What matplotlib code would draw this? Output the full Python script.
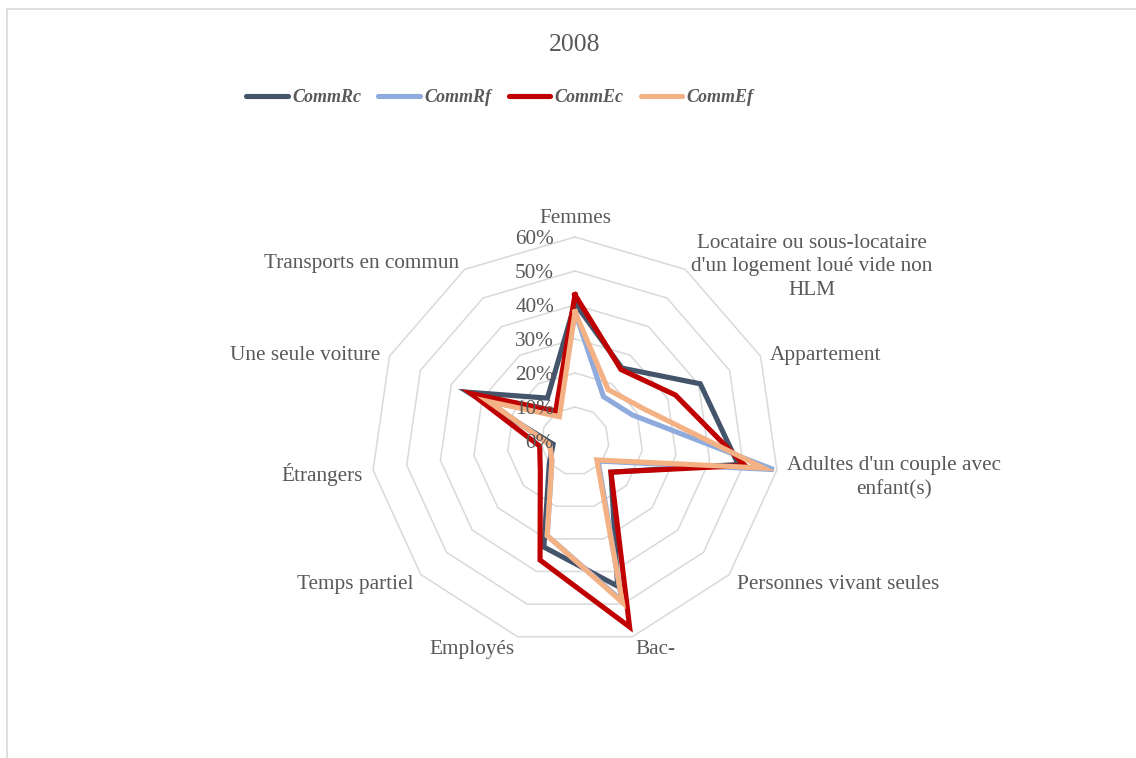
import numpy as np
import matplotlib
matplotlib.use("Agg")
import matplotlib.pyplot as plt
from matplotlib.lines import Line2D
from matplotlib.transforms import ScaledTranslation

categories = ["Femmes",
              "Locataire ou sous-locataire\nd'un logement loué vide non\nHLM",
              "Appartement",
              "Adultes d'un couple avec\nenfant(s)",
              "Personnes vivant seules",
              "Bac-",
              "Employés",
              "Temps partiel",
              "Étrangers",
              "Une seule voiture",
              "Transports en commun"]

series_names = ["CommRc", "CommRf", "CommEc", "CommEf"]
comm_rc = [40.5, 25.5, 40.5, 48.5, 14.0, 44.5, 32.5, 10.0, 6.5, 34.5, 15.0]
comm_rf = [38.0, 15.5, 18.5, 59.0, 9.0, 49.0, 29.0, 9.0, 7.5, 28.0, 9.0]
comm_ec = [43.0, 25.0, 32.5, 50.5, 14.0, 57.0, 36.5, 13.5, 10.5, 33.5, 10.5]
comm_ef = [38.0, 18.0, 22.5, 56.0, 8.5, 49.5, 29.0, 9.0, 7.5, 28.0, 8.5]
tick_values = [0, 10, 20, 30, 40, 50, 60]
tick_labels = ["0%", "10%", "20%", "30%", "40%", "50%", "60%"]
title = "2008"

colors = ["#44546A", "#8FAADC", "#C00000", "#F4B183"]
text_color = "#595959"
grid_color = "#D9D9D9"

plt.rcParams['font.family'] = ['Liberation Serif', 'DejaVu Serif']

W, H = 1136, 758
fig = plt.figure(figsize=(W / 100, H / 100), dpi=100)

cx, cy, R = 575, 441, 204
ax = fig.add_axes([(cx - R) / W, (H - cy - R) / H, 2 * R / W, 2 * R / H],
                  projection='polar')
ax.set_theta_zero_location('N')
ax.set_theta_direction(-1)
ax.set_ylim(0, 60)
ax.grid(False)
ax.set_xticks([])
ax.set_yticks([])
ax.spines['polar'].set_visible(False)
ax.patch.set_alpha(0)

n = len(categories)
angles = np.arange(n) * 2 * np.pi / n
closed = np.append(angles, angles[0])

for r in tick_values[1:]:
    ax.plot(closed, [r] * (n + 1), color=grid_color, lw=1.1, zorder=1,
            clip_on=False)

handles = []
for vals, col, name in zip([comm_rc, comm_rf, comm_ec, comm_ef], colors, series_names):
    v = list(vals) + [vals[0]]
    ln, = ax.plot(closed, v, color=col, lw=3.7, zorder=3, clip_on=False,
                  solid_joinstyle='miter', label=name)
    handles.append(ln)


def shifted(dx_px, dy_px):
    return ax.transData + ScaledTranslation(dx_px / 100, dy_px / 100, fig.dpi_scale_trans)


# tick labels
for tv, tl in zip(tick_values, tick_labels):
    ax.text(0, tv, tl, transform=shifted(-21, -2), ha='right', va='center',
            fontsize=15.3, color=text_color, zorder=5)

# category labels
for a, lab in zip(angles, categories):
    deg = np.degrees(a)
    if deg < 1:
        ax.text(a, 63.3, lab, transform=shifted(0, -2), ha='center', va='bottom',
                fontsize=15.3, color=text_color)
    else:
        ha = 'left' if deg < 180 else 'right'
        dy = -6 if '\n' in lab else -3
        ax.text(a, 63, lab, transform=shifted(0, dy), ha=ha, va='center',
                fontsize=15.3, color=text_color, multialignment='center',
                linespacing=1.33)

fig.text(cx / W, 1 - 45 / H, title, ha='center', va='center', fontsize=18.5,
         color=text_color)

leg = fig.legend(handles=handles, loc='center', bbox_to_anchor=(500 / W, 1 - 98 / H),
                 ncol=4, frameon=False, handlelength=2.3, handletextpad=0.25,
                 columnspacing=0.95, borderpad=0,
                 prop={'family': 'Liberation Serif', 'weight': 'bold',
                       'style': 'italic', 'size': 13})
for t in leg.get_texts():
    t.set_color(text_color)
for h in leg.legend_handles:
    h.set_linewidth(3.7)
    h.set_solid_capstyle('round')

# chart border (left and top visible)
fig.add_artist(Line2D([7 / W, 7 / W], [0, 1 - 8.5 / H], transform=fig.transFigure,
                      color=grid_color, lw=1.2))
fig.add_artist(Line2D([7 / W, 1], [1 - 8.5 / H, 1 - 8.5 / H], transform=fig.transFigure,
                      color=grid_color, lw=1.2))

fig.savefig("out.png", dpi=100, facecolor='white')
